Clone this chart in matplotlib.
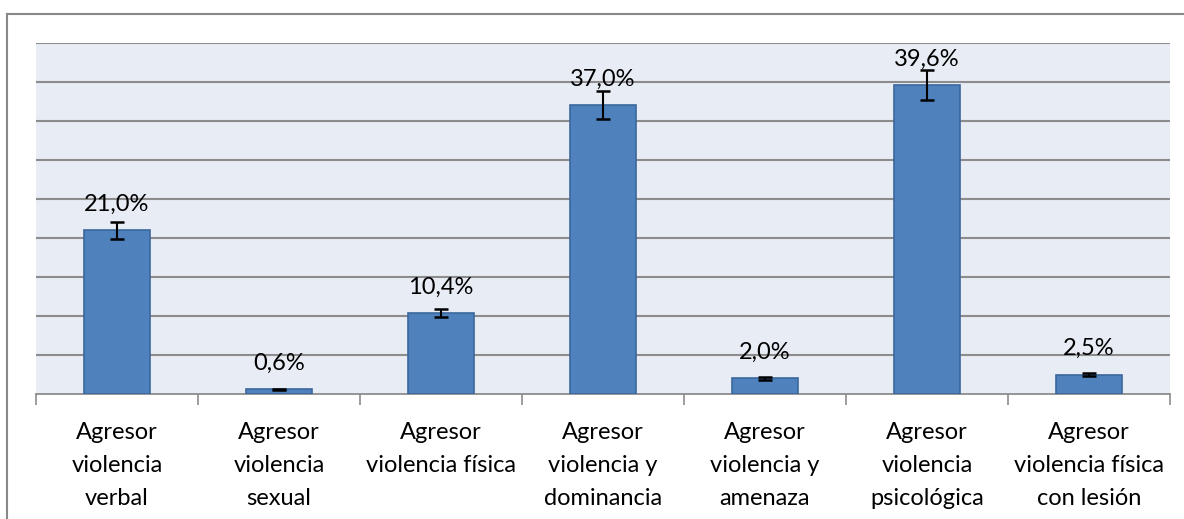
import matplotlib
matplotlib.use("Agg")
import matplotlib.pyplot as plt
from matplotlib.lines import Line2D
import numpy as np

categories = ["Agresor\nviolencia\nverbal", "Agresor\nviolencia\nsexual", "Agresor\nviolencia física",
              "Agresor\nviolencia y\ndominancia", "Agresor\nviolencia y\namenaza",
              "Agresor\nviolencia\npsicológica", "Agresor\nviolencia física\ncon lesión"]
values = [21.0, 0.6, 10.4, 37.0, 2.0, 39.6, 2.5]
errors = [1.1, 0.1, 0.5, 1.8, 0.15, 1.9, 0.2]
value_labels = ["21,0%", "0,6%", "10,4%", "37,0%", "2,0%", "39,6%", "2,5%"]

plt.rcParams['font.family'] = ['Lato', 'DejaVu Sans']

fig = plt.figure(figsize=(11.84, 5.19), dpi=100)
ax = fig.add_axes([36/1184, 1-394/519, (1170-36)/1184, (394-43)/519])
ax.set_facecolor('#E8ECF4')

x = np.arange(len(categories))
ax.bar(x, values, width=0.41, color='#4F81BD', edgecolor='#3B679C', linewidth=1.2, zorder=3)
ax.errorbar(x, values, yerr=errors, fmt='none', ecolor='black', elinewidth=1.5,
            capsize=5, capthick=1.8, zorder=4)

for xi, v, lab in zip(x, values, value_labels):
    ax.annotate(lab, (xi, v), xytext=(0, 11), textcoords='offset points',
                ha='center', va='bottom', fontsize=17, color='black', zorder=5)

ax.set_xlim(-0.5, len(categories) - 0.5)
ax.set_ylim(0, 45)
ax.set_yticks(np.arange(5, 50, 5))
ax.yaxis.grid(True, color='#8C8C8C', linewidth=1.5, zorder=0)
ax.set_axisbelow(True)
ax.tick_params(axis='y', left=False, labelleft=False)

ax.set_xticks(x)
ax.set_xticklabels(categories, fontsize=17, linespacing=1.72)
ax.tick_params(axis='x', length=0, pad=20)
ax.set_xticks(np.arange(-0.5, len(categories)), minor=True)
ax.tick_params(axis='x', which='minor', length=8, width=1.2, color='#8C8C8C')

for s in ['top', 'right', 'left']:
    ax.spines[s].set_visible(False)
ax.spines['bottom'].set_color('#8C8C8C')
ax.spines['bottom'].set_linewidth(1.3)

# outer chart frame
fig.add_artist(Line2D([7/1184, 7/1184], [0, 1-14/519], transform=fig.transFigure,
                      color='#888888', linewidth=1.5))
fig.add_artist(Line2D([7/1184, 1], [1-14/519, 1-14/519], transform=fig.transFigure,
                      color='#888888', linewidth=1.5))

fig.savefig("out.png", dpi=100, facecolor='white')
